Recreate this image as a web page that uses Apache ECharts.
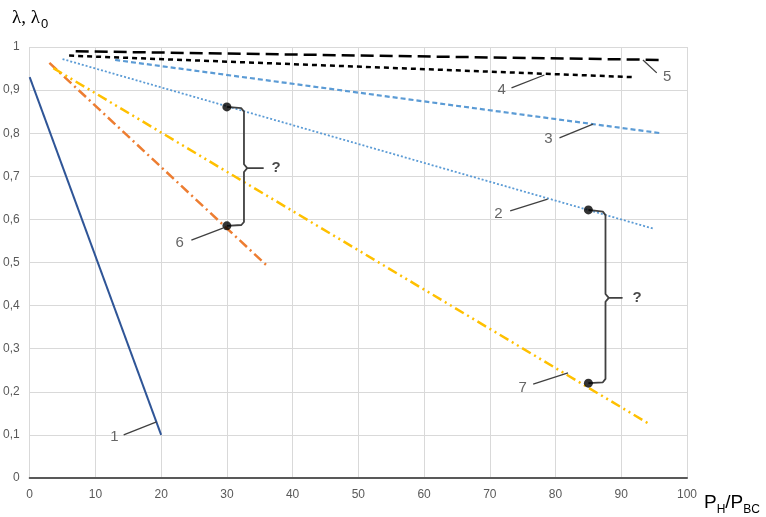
<!DOCTYPE html>
<html>
<head>
<meta charset="utf-8">
<script src="https://cdn.jsdelivr.net/npm/echarts@6/dist/echarts.min.js"></script>
<style>html,body{margin:0;padding:0;background:#fff}#c{width:766px;height:517px}</style>
</head>
<body>
<div id="c"></div>
<script>
// ---- data (axis units) ----
const xTicks = [0, 10, 20, 30, 40, 50, 60, 70, 80, 90, 100];
const yTicks = [0, 0.1, 0.2, 0.3, 0.4, 0.5, 0.6, 0.7, 0.8, 0.9, 1];
const curve1 = [[0, 0.93], [20, 0.10]];
const curve2 = [[5, 0.972], [95, 0.578]];
const curve3 = [[13, 0.97], [96, 0.80]];
const curve4 = [[6, 0.98], [92, 0.93]];
const curve5 = [[7, 0.99], [96, 0.97]];
const curve6 = [[3, 0.963], [36, 0.494]];
const curve7 = [[3.6, 0.951], [94.5, 0.123]];
const markedPoints = [[30, 0.861], [30, 0.585], [85, 0.622], [85, 0.22]];
const brace1 = [[30, 0.861], [32.2, 0.858], [32.6, 0.85], [32.6, 0.728], [33.1, 0.719], [35.5, 0.719], [33.1, 0.719], [32.6, 0.71], [32.6, 0.594], [32.2, 0.587], [30, 0.585]];
const brace2 = [[85, 0.622], [87.2, 0.618], [87.6, 0.61], [87.6, 0.427], [88.1, 0.418], [90.1, 0.418], [88.1, 0.418], [87.6, 0.409], [87.6, 0.23], [87.2, 0.222], [85, 0.22]];
const curveLabels = ['1', '2', '3', '4', '5', '6', '7'];
const labelPos = [[12.9, 0.095], [71.3, 0.613], [78.9, 0.787], [71.8, 0.9], [97, 0.93], [22.8, 0.545], [75, 0.209]];
const leaders = [
  [[14.3, 0.1], [19.3, 0.13]],
  [[73.1, 0.62], [78.8, 0.647]],
  [[80.6, 0.789], [85.7, 0.821]],
  [[73.3, 0.905], [78.3, 0.935]],
  [[95.4, 0.94], [93.3, 0.97]],
  [[24.6, 0.552], [29.4, 0.58]],
  [[76.6, 0.218], [81.9, 0.244]]
];
const questionPos = [[37.5, 0.719], [92.4, 0.418]];

const FONT = 'Liberation Sans';
const chart = echarts.init(document.getElementById('c'), null, {renderer: 'canvas'});

function curve(data, color, width, type) {
  return {type: 'line', data: data, symbol: 'none', silent: true, z: 3,
    lineStyle: {color: color, width: width, type: type, cap: 'butt'}};
}
const series = [
  curve(curve1, '#2F5597', 2, 'solid'),
  curve(curve2, '#5B9BD5', 1.8, [2, 2]),
  curve(curve3, '#5B9BD5', 2.2, [5, 3]),
  curve(curve4, '#000000', 2.5, [5, 4]),
  curve(curve5, '#000000', 2.5, [13, 6]),
  curve(curve6, '#ED7D31', 2.5, [10, 4, 2, 4]),
  curve(curve7, '#FFC000', 2.5, [10, 4, 2, 4, 2, 4])
];
leaders.forEach(function (l) {
  series.push({type: 'line', data: l, symbol: 'none', silent: true, z: 4,
    lineStyle: {color: '#404040', width: 1.3}});
});
[brace1, brace2].forEach(function (b) {
  series.push({type: 'line', data: b, symbol: 'none', silent: true, z: 4,
    lineStyle: {color: '#404040', width: 1.8, join: 'round'}});
});
series.push({type: 'scatter', data: markedPoints, symbol: 'circle', symbolSize: 9, z: 6,
  itemStyle: {color: '#000'}, silent: true});
series.push({type: 'scatter', silent: true, symbolSize: 0, z: 7,
  data: labelPos.map(function (p, i) { return {value: p, name: curveLabels[i]}; }),
  label: {show: true, position: 'inside', formatter: '{b}', color: '#404040', fontSize: 15, fontFamily: FONT}});
series.push({type: 'scatter', silent: true, symbolSize: 0, z: 7,
  data: questionPos.map(function (p) { return {value: p, name: '?'}; }),
  label: {show: true, position: 'inside', formatter: '{b}', color: '#1a1a1a', fontSize: 15, fontWeight: 'bold', fontFamily: FONT}});

chart.setOption({
  animation: false,
  backgroundColor: '#fff',
  grid: {left: 28, right: 79, top: 47, bottom: 39, containLabel: false},
  xAxis: {type: 'value', min: 0, max: 100, interval: 10,
    axisLine: {show: true, onZero: false, lineStyle: {color: '#595959', width: 2}},
    axisTick: {show: false},
    axisLabel: {color: '#595959', fontSize: 12, fontFamily: FONT, margin: 11,
      formatter: function (v) { return xTicks.indexOf(v) >= 0 ? String(v) : ''; }},
    splitLine: {show: true, lineStyle: {color: '#d9d9d9', width: 1}}},
  yAxis: {type: 'value', min: 0, max: 1, interval: 0.1,
    axisLine: {show: false}, axisTick: {show: false},
    axisLabel: {color: '#595959', fontSize: 12, fontFamily: FONT, margin: 10,
      formatter: function (v) { var t = yTicks.find(function (y) { return Math.abs(y - v) < 1e-6; }); return t === undefined ? '' : String(+t.toFixed(1)).replace('.', ','); }},
    splitLine: {show: true, lineStyle: {color: '#d9d9d9', width: 1}}},
  graphic: [
    {type: 'text', left: 12, top: 9, style: {
      text: '{a|λ, λ}{s|0}',
      rich: {a: {fontSize: 19, fontFamily: 'Liberation Serif', color: '#404040', lineHeight: 24, verticalAlign: 'middle'},
             s: {fontSize: 13, fontFamily: FONT, color: '#404040', lineHeight: 24, verticalAlign: 'bottom', padding: [0, 0, 0, 1]}}}},
    {type: 'text', left: 704, top: 493, style: {
      text: '{a|P}{s|H}{a|/P}{s|BC}',
      rich: {a: {fontSize: 19, fontFamily: FONT, color: '#404040', lineHeight: 26, verticalAlign: 'middle'},
             s: {fontSize: 12, fontFamily: FONT, color: '#404040', lineHeight: 26, verticalAlign: 'bottom'}}}}
  ],
  series: series
});
</script>
</body>
</html>
